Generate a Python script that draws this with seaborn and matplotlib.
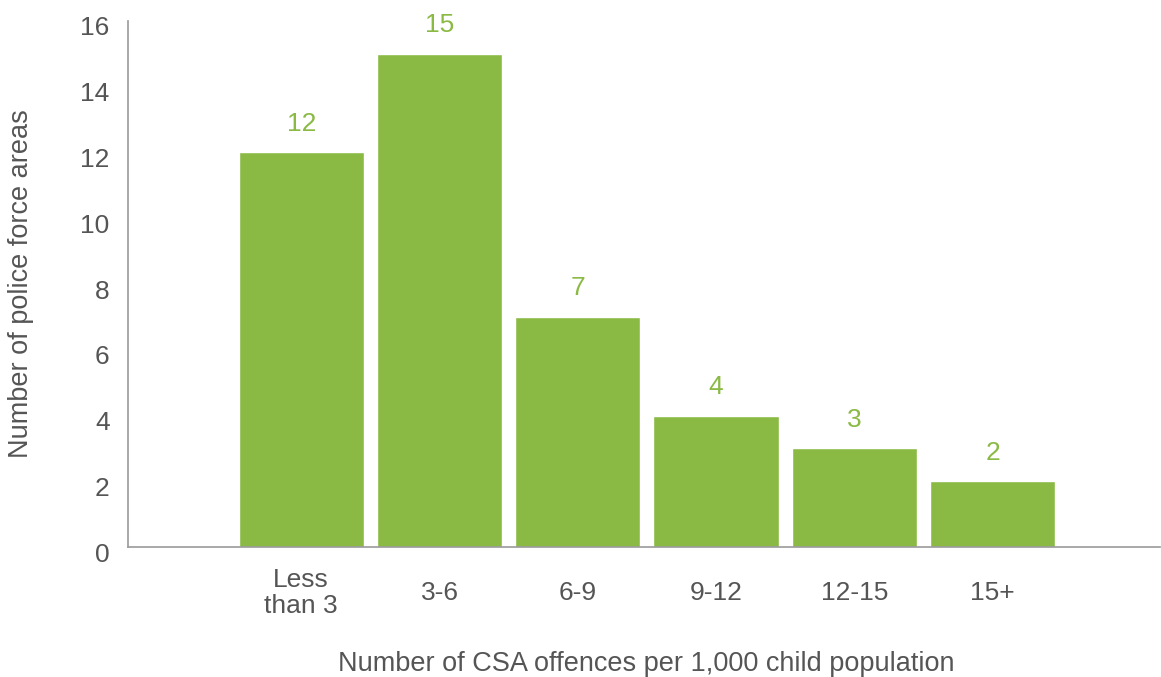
import matplotlib
matplotlib.use("Agg")
import matplotlib.pyplot as plt
import matplotlib.transforms as mtransforms
import seaborn as sns
import pandas as pd

# data
categories = ["Less\nthan 3", "3-6", "6-9", "9-12", "12-15", "15+"]
areas = [12, 15, 7, 4, 3, 2]
y_ticks = [0, 2, 4, 6, 8, 10, 12, 14, 16]

green = "#8aba44"
grey_text = "#555555"

sns.set_style("white")
plt.rcParams["font.family"] = ["Liberation Sans", "DejaVu Sans"]

df = pd.DataFrame({"band": categories, "areas": areas})

fig = plt.figure(figsize=(11.61, 6.77), dpi=100)
ax = fig.add_axes([0.110, 0.192, 0.889, 0.777])

sns.barplot(data=df, x="band", y="areas", color=green, width=0.905,
            saturation=1, ax=ax)

for p, v in zip(ax.patches, areas):
    ax.annotate(str(v), (p.get_x() + p.get_width() / 2, p.get_height()),
                xytext=(0, 12), textcoords="offset points",
                ha="center", va="bottom", fontsize=19, color=green)

ax.set_xlim(-1.255, 6.21)
ax.set_ylim(0, 16)
ax.set_yticks(y_ticks)
ax.tick_params(axis="both", length=0, labelsize=19, labelcolor=grey_text)
ax.tick_params(axis="y", pad=13)
ax.tick_params(axis="x", pad=33)
# category labels are centred on one line, two-line one included
for lab in ax.get_xticklabels():
    lab.set_linespacing(1.1)
    lab.set_va("center")

# tick labels sit a little below their gridline in the original
off = mtransforms.ScaledTranslation(0, -5 / 100, fig.dpi_scale_trans)
for lab in ax.get_yticklabels():
    lab.set_transform(lab.get_transform() + off)

for side in ["top", "right"]:
    ax.spines[side].set_visible(False)
for side in ["left", "bottom"]:
    ax.spines[side].set_color("#999999")
    ax.spines[side].set_linewidth(1.2)

ax.set_ylabel("Number of police force areas", fontsize=19.5, color=grey_text)
ax.set_xlabel("Number of CSA offences per 1,000 child population",
              fontsize=19.5, color=grey_text)
ax.yaxis.set_label_coords(-0.091, 0.5)
ax.xaxis.set_label_coords(0.502, -0.198)

plt.savefig("out.png", dpi=100)
plt.close()
